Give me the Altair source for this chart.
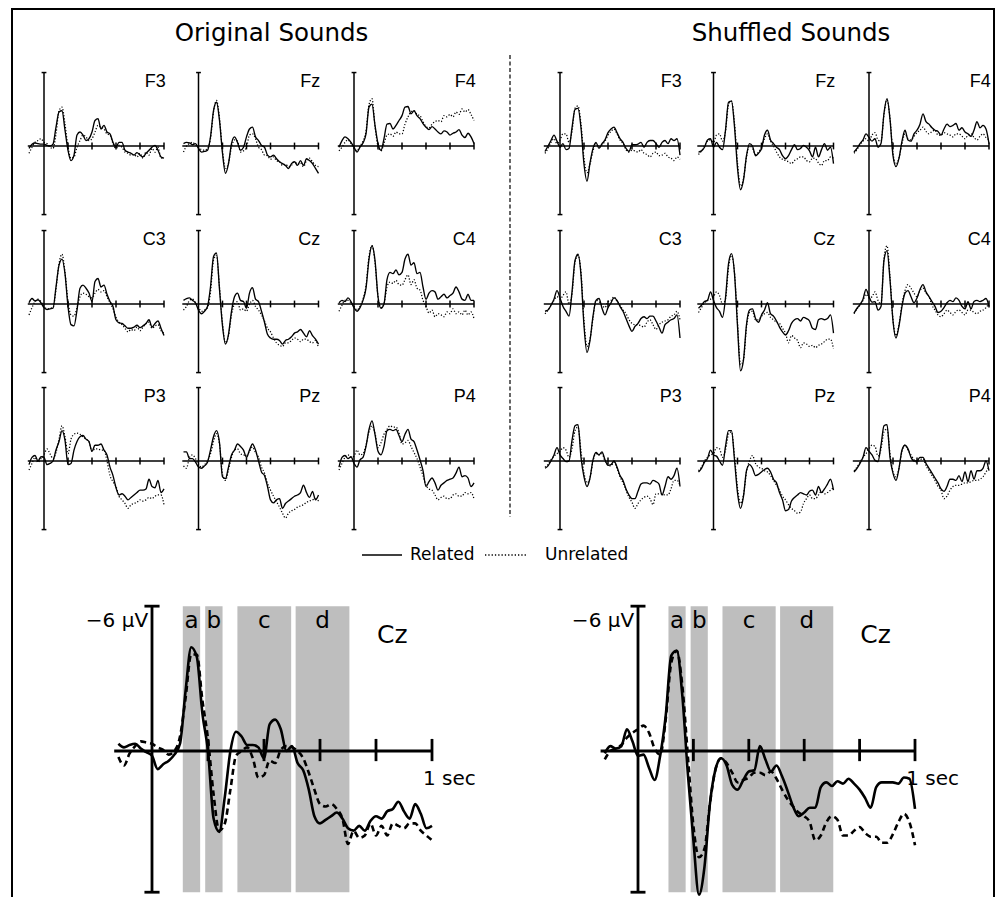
import altair as alt
import pandas as pd

# ------------------------------------------------------------------ data
T_SMALL = [round(-0.125 + 0.025 * i, 3) for i in range(46)]
T_BIG = [round(-0.12 + 0.02 * i, 2) for i in range(57)]

# Original sounds (µV, negative up) : related / unrelated
O_F3_REL = [0.2,-0.15,-0.25,-0.2,-0.15,-0.15,-0.05,0.0,-0.15,-1.55,-2.8,-2.9,-1.3,0.35,1.2,0.75,-0.9,-1.15,-0.9,-0.45,-0.6,-1.15,-2.1,-2.25,-1.4,-1.7,-1.15,-1.0,-0.3,0.1,-0.3,-0.3,0.35,0.5,0.6,0.75,0.55,0.75,0.9,0.6,0.35,0.1,-0.05,0.35,0.9,1.0]
O_F3_UNR = [0.6,0.1,-0.3,-0.45,-0.6,-0.3,-0.2,0.1,0.2,-1.0,-2.9,-3.2,-1.8,0.1,1.0,0.9,0.1,-0.45,-0.9,-0.75,-0.45,-0.6,-1.15,-1.7,-1.55,-1.4,-1.0,-0.9,-0.2,0.2,-0.05,0.1,0.5,0.6,0.75,0.7,0.9,0.6,1.0,0.5,0.75,0.2,0.5,0.1,1.0,1.0]
O_FZ_REL = [-0.2,-0.3,-0.25,-0.1,-0.2,0.2,0.5,0.45,0.35,-0.75,-2.9,-3.6,-2.1,0.6,2.25,1.45,-0.2,-0.75,-0.3,0.35,0.1,-0.75,-1.4,-1.55,-0.75,-0.45,-0.05,0.1,0.75,0.9,0.75,1.05,1.3,1.45,1.6,1.85,1.45,1.3,1.6,1.2,1.6,1.05,1.2,1.45,1.85,2.25]
O_FZ_UNR = [0.5,0.0,-0.2,-0.3,-0.1,0.1,0.3,0.35,0.2,-0.6,-2.8,-3.75,-2.3,0.4,1.85,1.4,0.1,-0.5,-0.4,0.5,0.4,0.1,-0.9,-1.0,-0.6,0.1,0.3,0.75,0.8,1.1,0.9,1.2,1.3,1.6,1.5,1.7,1.6,1.3,1.5,1.4,1.7,1.2,1.0,1.3,1.6,1.7]
O_F4_REL = [0.1,-0.45,-0.75,-0.6,-0.3,0.1,0.5,0.1,-0.25,-1.0,-3.2,-3.45,-1.7,-0.2,0.35,-0.6,-1.8,-1.85,-1.4,-1.7,-2.1,-2.5,-3.2,-3.25,-2.65,-2.9,-2.5,-2.25,-1.85,-1.55,-1.35,-1.6,-1.4,-1.15,-1.0,-1.25,-1.15,-0.9,-1.05,-1.15,-1.35,-0.9,-0.7,-1.05,-0.75,-0.2]
O_F4_UNR = [0.4,0.1,-0.3,-0.5,-0.2,0.2,0.4,0.0,-0.4,-1.2,-3.4,-3.9,-1.6,0.0,0.4,-0.2,-0.9,-1.0,-0.8,-1.15,-1.0,-1.0,-1.8,-2.4,-2.8,-2.9,-2.6,-2.5,-2.0,-1.6,-1.5,-1.8,-2.0,-2.1,-2.0,-2.5,-2.4,-2.6,-2.4,-2.8,-2.6,-3.05,-2.8,-3.0,-2.6,-2.1]
O_C3_REL = [-0.1,-0.45,-0.25,-0.35,-0.1,0.3,0.45,0.4,0.35,-1.4,-3.2,-3.7,-2.5,0.2,1.7,1.8,0.5,-1.3,-1.55,-1.3,-0.9,-0.2,-1.85,-2.1,-1.4,-1.55,-0.8,-0.2,0.2,1.3,1.55,1.6,1.8,2.0,2.0,1.9,1.75,1.95,1.8,1.6,1.3,1.9,1.6,1.4,2.0,2.6]
O_C3_UNR = [0.9,0.3,-0.2,-0.4,-0.2,0.2,0.4,0.35,0.3,-1.2,-3.3,-4.1,-2.6,-0.2,0.9,1.0,0.3,-0.6,-0.9,-0.8,-0.6,-0.5,-0.9,-1.2,-1.0,-1.1,-0.6,-0.1,0.4,1.1,1.5,1.7,2.0,2.3,2.1,2.2,1.9,2.2,1.9,1.6,1.5,2.0,1.8,1.7,2.2,2.4]
O_CZ_REL = [-0.3,-0.45,-0.5,-0.3,-0.1,0.5,0.8,0.6,0.2,-1.4,-3.9,-4.2,-1.2,1.8,3.3,2.5,0.6,-0.6,-0.9,-0.3,-0.2,0.35,-0.9,-1.35,-0.4,-0.2,0.6,1.5,2.5,2.8,2.9,2.9,3.0,3.3,3.0,2.9,2.7,2.4,2.3,2.1,2.4,2.7,2.2,2.6,2.9,3.3]
O_CZ_UNR = [0.5,0.2,-0.3,-0.4,-0.1,0.3,0.6,0.5,0.3,-1.0,-3.6,-4.0,-1.4,1.6,3.2,2.6,0.9,0.0,-0.2,0.5,0.4,0.6,0.0,-0.3,0.2,0.5,0.9,1.4,2.0,2.3,2.8,3.2,3.4,3.5,3.2,3.2,3.0,2.8,2.9,3.1,2.9,2.9,3.1,3.2,3.0,3.6]
O_C4_REL = [-0.1,-0.3,-0.2,-0.5,-0.2,0.3,0.6,0.3,-0.3,-1.3,-3.7,-4.8,-3.6,-0.6,0.35,0.0,-2.0,-2.6,-2.5,-2.8,-2.4,-2.6,-3.7,-4.1,-3.2,-3.4,-2.5,-2.6,-1.4,-0.4,-0.9,-1.1,-1.0,-0.4,-0.6,-0.8,-0.5,-0.7,-0.9,-1.4,-1.0,-0.4,-0.3,-0.8,-0.3,-0.3]
O_C4_UNR = [0.6,0.1,-0.3,-0.3,-0.1,0.2,0.5,0.2,-0.4,-1.5,-3.9,-4.8,-3.4,-0.6,0.3,0.0,-1.4,-1.8,-1.7,-1.95,-1.6,-1.55,-2.0,-2.4,-1.6,-2.0,-1.3,-1.15,-0.3,0.2,0.75,0.5,1.05,0.8,0.9,1.05,0.65,0.8,0.4,0.8,0.65,0.9,0.5,0.9,0.65,1.2]
O_P3_REL = [0.3,-0.3,-0.45,0.0,-0.35,-0.3,0.3,0.2,0.0,-0.9,-1.6,-2.5,-1.7,0.3,0.2,-0.9,-1.6,-2.0,-2.1,-1.8,-1.6,-0.8,-1.3,-1.3,-1.4,-0.9,-0.5,0.5,1.2,2.2,2.8,2.7,2.9,3.2,3.0,2.8,2.6,2.4,2.4,2.3,1.5,2.1,2.2,1.6,2.6,2.3]
O_P3_UNR = [0.75,0.2,-0.3,0.1,-0.2,-0.5,-1.0,-0.6,-0.2,-0.7,-1.8,-2.9,-2.0,-0.6,-1.8,-2.2,-2.3,-2.2,-2.0,-1.8,-1.6,-0.8,-1.0,-1.0,-0.9,-0.9,0.0,1.2,1.7,2.1,2.9,3.2,3.5,3.9,3.6,3.5,3.4,3.2,3.3,3.2,3.0,3.1,2.9,2.8,2.8,3.6]
O_PZ_REL = [-0.75,-0.75,-0.2,-0.2,0.1,0.5,0.6,0.4,0.1,-0.9,-2.0,-2.5,-1.5,1.3,1.45,0.5,-0.5,-0.9,-1.4,-1.2,-0.9,-0.3,-0.9,-1.4,-0.9,0.0,0.9,1.2,2.1,3.2,3.45,3.2,3.1,3.9,3.5,3.3,3.1,2.9,2.8,2.6,2.0,2.6,3.0,2.5,3.2,2.8]
O_PZ_UNR = [0.4,0.6,-0.3,-0.5,-0.2,0.3,0.5,0.3,0.0,-0.6,-1.6,-2.25,-1.4,1.1,1.6,0.7,-0.3,-0.9,-1.0,-0.6,-0.5,-0.45,-0.8,-1.15,-0.7,-0.3,0.5,1.0,1.85,2.4,2.9,3.35,3.8,4.3,4.7,4.3,4.1,4.0,3.8,3.7,3.6,3.4,3.3,3.2,3.1,3.3]
O_P4_REL = [0.5,-0.3,-0.45,-0.2,-0.35,0.2,0.5,-0.1,-0.3,-1.2,-2.6,-3.3,-2.2,-0.8,-0.5,-1.2,-2.5,-2.6,-2.5,-2.6,-2.1,-1.6,-2.2,-2.6,-1.8,-1.6,-0.9,-0.1,0.8,2.1,1.7,1.4,1.8,2.4,2.0,1.8,1.6,1.5,1.4,1.0,0.5,1.3,1.2,1.4,2.1,1.8]
O_P4_UNR = [0.75,0.2,-0.3,-0.5,-0.3,-0.4,-0.9,-0.5,-0.6,-1.3,-2.4,-2.9,-2.3,-1.1,-1.5,-2.2,-2.6,-2.9,-2.8,-2.8,-2.3,-1.4,-1.5,-1.7,-1.2,-0.7,-0.2,0.5,1.2,2.0,2.3,2.4,2.8,3.2,3.0,2.9,3.1,3.1,2.8,2.7,2.9,2.9,2.6,2.7,2.6,3.1]

# Shuffled sounds : related / unrelated
S_F3_REL = [0.45,0.0,-0.45,-0.9,-0.4,0.1,-0.2,0.3,0.2,-1.5,-3.0,-3.1,-1.5,1.5,2.9,1.4,0.2,-0.3,0.2,-0.2,-0.5,-1.1,-1.4,-1.55,-1.1,-0.6,-0.3,0.2,0.45,-0.1,-0.1,-0.15,-0.3,0.1,-0.3,-0.45,-0.45,-0.2,0.1,-0.3,-0.45,-0.2,-0.6,-0.45,-0.6,0.75]
S_F3_UNR = [0.6,0.2,-0.3,-0.6,-0.2,-0.5,-1.0,-1.0,-0.3,-1.2,-3.1,-3.3,-1.8,1.0,2.2,1.5,0.4,-0.2,0.1,-0.1,-0.4,-0.9,-1.2,-1.4,-1.0,-0.5,-0.2,0.3,0.5,0.35,0.4,0.5,0.3,0.6,0.7,0.9,0.6,0.5,0.8,0.75,0.6,0.9,1.0,1.2,0.9,1.1]
S_FZ_REL = [0.5,0.4,0.1,-0.5,-0.6,0.1,-0.3,0.1,0.3,-1.3,-3.6,-3.7,-1.6,1.8,3.6,2.8,0.8,-0.2,0.0,0.8,0.6,0.2,-0.9,-1.3,-0.5,-0.2,0.1,0.3,0.8,1.05,0.8,0.3,-0.1,0.3,0.2,-0.05,0.1,0.4,0.9,0.1,0.9,0.3,-0.2,0.35,0.1,1.45]
S_FZ_UNR = [0.7,0.4,0.0,-0.4,-0.5,-0.3,-0.9,-1.0,-0.4,-1.2,-3.4,-3.7,-1.9,1.4,3.3,2.7,0.9,0.0,0.2,0.7,0.5,0.1,-0.6,-1.0,-0.4,0.0,0.5,0.9,1.1,1.2,1.3,1.45,1.2,1.05,0.9,0.9,1.2,1.3,1.0,1.05,1.4,1.6,1.2,1.2,0.9,1.0]
S_F4_REL = [0.5,0.2,-0.2,-0.5,-1.0,-0.7,-0.4,-0.6,0.1,-0.2,-2.7,-3.9,-2.2,0.8,1.7,1.0,-0.4,-1.3,-0.5,-0.4,-1.0,-1.3,-1.8,-2.65,-2.0,-1.8,-1.5,-1.3,-1.2,-0.9,-1.4,-1.8,-1.6,-1.7,-1.85,-1.3,-1.5,-1.15,-1.0,-0.8,-1.3,-2.0,-1.5,-1.7,-1.4,-0.2]
S_F4_UNR = [0.6,0.3,-0.1,-0.4,-0.6,-0.4,-0.9,-1.1,-0.5,-0.4,-2.6,-3.8,-2.3,0.6,1.5,1.0,-0.2,-1.0,-0.6,-0.5,-0.8,-1.1,-1.3,-1.55,-1.2,-1.0,-1.2,-1.3,-0.9,-0.9,-1.1,-1.0,-0.9,-0.75,-1.0,-1.0,-0.8,-0.6,-0.9,-1.0,-0.7,-0.5,-0.8,-1.0,-0.7,-0.5]
S_C3_REL = [0.6,0.5,0.1,-0.4,-1.1,-0.5,0.2,0.6,1.0,-1.0,-3.6,-4.1,-2.4,1.8,4.0,3.0,1.0,-0.3,-0.45,0.35,0.9,0.3,-0.1,-0.5,-0.3,0.2,0.6,1.2,1.8,2.25,1.85,1.6,1.2,1.05,1.2,1.0,1.0,1.4,1.9,2.4,1.7,1.5,1.3,1.2,0.9,2.8]
S_C3_UNR = [0.8,0.5,0.1,-0.3,-0.6,-0.4,-0.7,-1.0,0.0,-0.8,-3.4,-4.0,-2.6,1.4,3.5,2.9,1.2,-0.3,-0.2,0.1,0.3,-0.2,-0.3,-0.6,-0.2,0.1,0.5,0.8,1.3,1.6,1.7,1.7,1.8,1.9,1.5,1.3,1.7,2.1,1.7,1.5,1.4,1.3,1.0,0.9,0.6,1.3]
S_CZ_REL = [0.35,0.1,-0.2,-0.3,-1.0,-0.3,0.3,0.6,1.1,-0.5,-3.3,-4.15,-2.5,1.8,5.5,4.6,1.7,0.5,0.4,1.2,1.5,0.9,0.5,-0.1,0.8,1.0,1.4,1.9,2.3,2.55,2.2,1.6,1.3,1.2,1.4,1.1,1.2,1.4,2.0,2.1,1.3,1.2,1.3,1.2,0.9,2.4]
S_CZ_UNR = [0.7,0.3,-0.1,-0.3,-0.4,-0.6,-1.0,-0.7,0.0,-0.4,-3.0,-4.0,-2.6,1.5,5.0,4.6,1.9,0.7,0.6,1.3,1.3,1.0,0.8,0.7,1.1,1.3,1.5,1.6,2.0,2.4,3.2,2.6,2.8,3.0,3.6,3.2,3.3,3.5,3.4,3.6,3.4,3.3,3.1,2.9,2.9,3.7]
S_C4_REL = [0.75,0.35,0.05,-0.4,-1.2,-0.6,-0.15,-0.2,0.5,0.2,-3.6,-4.4,-2.0,1.4,2.8,1.8,0.2,-0.9,-1.1,-0.6,-0.1,-0.5,-1.2,-1.6,-1.0,-0.6,-0.2,0.2,0.7,0.6,0.3,-0.1,-0.3,-0.2,-0.5,-0.3,0.2,0.4,-0.2,0.4,-0.2,-0.3,-0.2,-0.3,-0.45,0.2]
S_C4_UNR = [0.8,0.4,0.1,-0.3,-0.8,-0.5,-0.6,-1.0,-0.3,0.0,-3.8,-4.8,-2.2,1.3,2.6,1.7,0.0,-1.1,-1.6,-1.3,-0.9,-0.6,-1.1,-1.3,-0.9,-0.6,0.1,0.5,0.9,1.05,0.8,0.5,0.7,0.9,0.6,0.5,0.7,0.9,0.5,0.5,0.7,0.8,0.6,0.5,0.3,-0.05]
S_P3_REL = [0.6,0.4,0.0,-0.5,-1.1,-0.5,-0.2,0.05,0.0,-1.7,-2.9,-3.0,-0.3,1.3,2.1,1.4,-0.1,-0.7,-0.5,-0.75,-0.1,0.35,0.3,0.0,0.5,1.2,1.6,2.3,2.8,3.1,3.1,2.5,1.9,1.8,1.8,1.9,1.6,1.7,1.9,2.8,2.1,1.3,1.5,1.2,0.6,2.1]
S_P3_UNR = [0.5,0.3,-0.1,-0.4,-0.6,-0.8,-1.1,-0.9,-0.3,-1.0,-2.5,-2.8,-0.8,1.0,1.8,1.4,0.0,-0.6,-0.5,-0.6,0.0,0.3,0.4,0.1,0.6,1.3,1.8,2.4,3.0,3.4,3.9,3.5,3.2,3.0,2.9,3.1,3.6,2.7,2.7,2.7,2.8,2.8,2.3,1.6,1.6,2.0]
S_PZ_REL = [0.9,0.6,0.1,-0.2,-0.9,-0.5,-0.4,0.0,0.35,-1.2,-2.5,-2.5,-0.1,2.6,3.9,2.9,0.8,0.3,0.6,1.2,1.1,0.9,0.7,0.6,0.9,1.5,1.8,2.6,3.2,4.1,4.0,3.3,3.0,2.8,2.6,2.7,2.8,2.5,2.4,2.8,2.1,2.6,2.3,1.9,1.5,2.4]
S_PZ_UNR = [0.8,0.5,0.0,-0.3,-0.5,-0.6,-1.1,-1.0,-0.3,-0.9,-2.2,-2.4,-0.4,2.2,3.5,2.8,0.9,0.0,-0.45,0.2,0.5,0.6,0.8,0.9,1.2,1.6,2.0,2.4,2.9,3.2,3.6,3.9,4.1,4.3,4.2,3.5,3.1,2.8,3.1,3.1,2.8,2.5,2.7,2.6,2.4,2.2]
S_P4_REL = [0.9,0.6,0.2,-0.3,-1.1,-0.8,-0.5,-0.05,0.05,-1.3,-2.9,-3.0,-0.3,1.0,1.6,0.6,-0.9,-1.3,-1.0,-0.3,0.0,0.0,-0.3,-0.3,0.2,0.6,1.0,1.4,1.8,2.3,2.5,2.1,1.5,1.5,1.6,1.2,1.7,0.9,1.7,0.8,1.5,0.8,0.8,0.6,0.0,0.8]
S_P4_UNR = [0.8,0.5,0.1,-0.3,-0.6,-1.0,-1.3,-1.2,-0.4,-1.0,-2.4,-2.65,-0.6,0.9,1.3,0.6,-0.8,-1.3,-0.9,-0.5,-0.1,0.1,-0.1,-0.2,0.4,0.8,1.2,1.6,2.1,2.4,3.1,2.9,2.4,2.1,2.0,2.0,1.9,1.8,1.8,1.7,1.6,1.6,1.5,1.3,0.9,0.5]

# Enlarged Cz
B_ORIG_REL = [-0.3,-0.15,-0.25,-0.3,-0.1,0.05,0.2,0.75,0.55,0.4,0.15,-0.3,-2.5,-4.3,-3.9,-1.55,0.0,2.8,3.35,1.9,0.0,-0.8,-0.6,-0.25,-0.25,-0.15,0.3,-1.1,-1.3,-0.9,0.0,-0.2,0.5,0.8,1.6,2.7,3.0,2.85,2.7,2.55,2.8,3.2,3.3,3.1,3.3,2.9,2.7,2.8,2.5,2.4,2.1,2.5,2.8,2.2,2.6,3.2,3.1]
B_ORIG_UNR = [0.25,0.6,0.1,-0.2,-0.4,-0.35,-0.3,-0.15,-0.05,0.15,0.0,-0.6,-2.2,-4.0,-4.0,-2.1,-0.5,1.8,3.3,3.0,1.6,0.2,0.0,-0.15,0.3,1.1,1.0,0.4,0.5,-0.05,-0.2,-0.15,0.0,0.3,0.9,1.6,2.2,2.3,2.2,2.4,2.8,3.85,3.3,3.6,3.5,3.0,3.5,3.1,3.5,3.0,3.1,3.2,3.0,3.0,3.3,3.5,3.7]
B_SHUF_REL = [0.1,-0.2,-0.1,-0.2,-0.9,-0.4,0.2,0.15,0.7,1.2,0.2,-1.45,-3.95,-4.15,-2.3,0.95,3.7,5.95,4.8,2.15,0.75,0.3,0.6,1.4,1.6,1.2,0.85,0.8,-0.2,0.35,0.85,0.6,1.05,1.65,2.3,2.7,2.55,2.35,2.35,1.5,1.3,1.45,1.25,1.35,1.15,1.35,1.6,1.95,2.35,1.5,1.3,1.3,1.3,1.35,1.1,1.15,2.4]
B_SHUF_UNR = [0.35,0.0,-0.1,-0.25,-0.55,-0.75,-0.9,-1.05,-0.75,-0.1,0.15,-1.3,-3.65,-4.15,-2.7,0.2,3.1,4.4,4.05,2.15,0.75,0.3,0.5,0.9,1.3,1.2,1.1,0.9,0.9,1.0,0.85,1.15,1.6,2.0,2.3,2.55,2.7,2.95,3.7,3.5,2.95,2.7,2.85,3.5,3.5,3.3,3.15,3.4,3.55,3.55,3.8,3.8,3.45,2.95,2.6,2.95,3.9]

ROWS = [["F3", "Fz", "F4"], ["C3", "Cz", "C4"], ["P3", "Pz", "P4"]]
ORIGINAL = {
    "F3": (O_F3_REL, O_F3_UNR), "Fz": (O_FZ_REL, O_FZ_UNR), "F4": (O_F4_REL, O_F4_UNR),
    "C3": (O_C3_REL, O_C3_UNR), "Cz": (O_CZ_REL, O_CZ_UNR), "C4": (O_C4_REL, O_C4_UNR),
    "P3": (O_P3_REL, O_P3_UNR), "Pz": (O_PZ_REL, O_PZ_UNR), "P4": (O_P4_REL, O_P4_UNR),
}
SHUFFLED = {
    "F3": (S_F3_REL, S_F3_UNR), "Fz": (S_FZ_REL, S_FZ_UNR), "F4": (S_F4_REL, S_F4_UNR),
    "C3": (S_C3_REL, S_C3_UNR), "Cz": (S_CZ_REL, S_CZ_UNR), "C4": (S_C4_REL, S_C4_UNR),
    "P3": (S_P3_REL, S_P3_UNR), "Pz": (S_PZ_REL, S_PZ_UNR), "P4": (S_P4_REL, S_P4_UNR),
}
GROUP_TITLES = ["Original Sounds", "Shuffled Sounds"]
LEGEND_LABELS = ["Related", "Unrelated"]
BAND_LABELS = ["a", "b", "c", "d"]
BAND_START = [0.11, 0.19, 0.305, 0.513]
BAND_END = [0.172, 0.252, 0.497, 0.705]
TICK_TIMES = [0.2, 0.4, 0.6, 0.8, 1.0]
T_RANGE = [-0.135, 1.0]          # drawn time axis (s)
SMALL_AX = [-6.05, 5.65]         # drawn amplitude axis, small panels (µV)
BIG_AX = [-6.0, 5.85]            # drawn amplitude axis, Cz panels (µV)

# ------------------------------------------------------------------ layout (pixels)
W, H = 987, 889
FONT = "DejaVu Sans"
SMALL_PPS, SMALL_PPU = 120, 12.14          # px per second / per µV
BIG_PPU = 24.14
SMALL_COLS = {"orig": [36, 190.5, 346], "shuf": [552, 705.5, 861]}   # x of t = 0
SMALL_ZERO = [138, 296, 453]                                         # y of 0 µV
BIG_COLS = [(144, 280), (630, 277)]                                  # x of t = 0, px per s
BIG_ZERO = 743


def scales(x0, pps, y0, ppu):
    xs = alt.Scale(domain=[0, 1], range=[x0, x0 + pps], nice=False, zero=False)
    ys = alt.Scale(domain=[0, 6], range=[y0, y0 + 6 * ppu], nice=False, zero=False)
    return xs, ys


def enc(xs, ys, xf, yf):
    return dict(x=alt.X(xf, type="quantitative", scale=xs, axis=None),
                y=alt.Y(yf, type="quantitative", scale=ys, axis=None))


def frame(xs, ys, vax, cap, tlo, thi, sw):
    k = dict(color="black", strokeWidth=sw)
    zero = alt.Chart(pd.DataFrame({"a": [T_RANGE[0]], "b": [T_RANGE[1]], "v": [0.0]})).mark_rule(**k).encode(
        x2="b", **enc(xs, ys, "a", "v"))
    vline = alt.Chart(pd.DataFrame({"t": [0.0], "lo": [vax[0]], "hi": [vax[1]]})).mark_rule(**k).encode(
        y2="hi", **enc(xs, ys, "t", "lo"))
    caps = alt.Chart(pd.DataFrame({"a": [-cap, -cap], "b": [cap, cap], "v": vax})).mark_rule(**k).encode(
        x2="b", **enc(xs, ys, "a", "v"))
    ticks = alt.Chart(pd.DataFrame({"t": TICK_TIMES, "lo": [tlo] * len(TICK_TIMES),
                                    "hi": [thi] * len(TICK_TIMES)})).mark_rule(**k).encode(
        y2="hi", **enc(xs, ys, "t", "lo"))
    return [zero, vline, caps, ticks]


def small_panel(name, rel, unr, x0, y0):
    xs, ys = scales(x0, SMALL_PPS, y0, SMALL_PPU)
    df = pd.DataFrame({"t": T_SMALL, "rel": rel, "unr": unr})
    base = alt.Chart(df)
    unr_line = base.mark_line(color="black", strokeWidth=1.25, strokeDash=[1.2, 1.8],
                              interpolate="monotone").encode(**enc(xs, ys, "t", "unr"))
    rel_line = base.mark_line(color="black", strokeWidth=1.35,
                              interpolate="monotone").encode(**enc(xs, ys, "t", "rel"))
    label = alt.Chart(pd.DataFrame({"t": [1.014], "v": [-5.3], "name": [name]})).mark_text(
        align="right", baseline="middle", font="Liberation Sans", fontSize=18, color="black"
    ).encode(text="name:N", **enc(xs, ys, "t", "v"))
    return alt.layer(*frame(xs, ys, SMALL_AX, 0.02, -0.28, 0.28, 1.5), unr_line, rel_line, label)


def big_panel(rel, unr, x0, pps):
    xs, ys = scales(x0, pps, BIG_ZERO, BIG_PPU)
    bdf = pd.DataFrame({"s": BAND_START, "e": BAND_END, "lab": BAND_LABELS,
                        "mid": [(a + b) / 2 for a, b in zip(BAND_START, BAND_END)],
                        "lo": [BIG_AX[0]] * 4, "hi": [BIG_AX[1]] * 4, "ty": [-5.08] * 4})
    bands = alt.Chart(bdf).mark_rect(color="#bebebe").encode(x2="e", y2="hi", **enc(xs, ys, "s", "lo"))
    band_text = alt.Chart(bdf).mark_text(font=FONT, fontSize=23, baseline="alphabetic",
                                         align="center", color="black").encode(
        text="lab:N", **enc(xs, ys, "mid", "ty"))
    df = pd.DataFrame({"t": T_BIG, "rel": rel, "unr": unr})
    base = alt.Chart(df)
    unr_line = base.mark_line(color="black", strokeWidth=2.6, strokeDash=[6, 4],
                              interpolate="monotone").encode(**enc(xs, ys, "t", "unr"))
    rel_line = base.mark_line(color="black", strokeWidth=2.6,
                              interpolate="monotone").encode(**enc(xs, ys, "t", "rel"))
    tdf = pd.DataFrame({"t": [0.858, -0.014, 0.968], "v": [-4.46, -5.15, 1.41],
                        "s": ["Cz", "\u22126 \u00b5V", "1 sec"]})
    texts = []
    for i, (size, align) in enumerate([(25, "center"), (20, "right"), (20, "left")]):
        texts.append(alt.Chart(tdf.iloc[[i]]).mark_text(
            font=FONT, fontSize=size, align=align, baseline="alphabetic", color="black"
        ).encode(text="s:N", **enc(xs, ys, "t", "v")))
    return alt.layer(bands, *frame(xs, ys, BIG_AX, 0.027, -0.5, 0.42, 2.8),
                     unr_line, rel_line, band_text, *texts)


# ------------------------------------------------------------------ decorations (frame, titles, legend)
tb = alt.Chart(pd.DataFrame({"k": [0]}))
BLACK = dict(color="black")
decor = [
    tb.mark_rule(strokeWidth=2, **BLACK).encode(x=alt.value(4), y=alt.value(1), y2=alt.value(H)),
    tb.mark_rule(strokeWidth=2, **BLACK).encode(x=alt.value(W - 1), y=alt.value(1), y2=alt.value(H)),
    tb.mark_rule(strokeWidth=2, **BLACK).encode(x=alt.value(3), x2=alt.value(W), y=alt.value(1)),
    tb.mark_rule(strokeWidth=1.2, strokeDash=[4, 2.5], **BLACK).encode(
        x=alt.value(502), y=alt.value(47), y2=alt.value(509)),
    tb.mark_text(font=FONT, fontSize=24.5, align="center", baseline="alphabetic", **BLACK).encode(
        x=alt.value(263.5), y=alt.value(32.7), text=alt.value(GROUP_TITLES[0])),
    tb.mark_text(font=FONT, fontSize=24.5, align="center", baseline="alphabetic", **BLACK).encode(
        x=alt.value(783), y=alt.value(32.7), text=alt.value(GROUP_TITLES[1])),
    tb.mark_rule(strokeWidth=1.3, **BLACK).encode(x=alt.value(354), x2=alt.value(394), y=alt.value(547)),
    tb.mark_text(font=FONT, fontSize=17, align="left", baseline="middle", **BLACK).encode(
        x=alt.value(402), y=alt.value(547), text=alt.value(LEGEND_LABELS[0])),
    tb.mark_rule(strokeWidth=1.3, strokeDash=[1.3, 2], **BLACK).encode(
        x=alt.value(477), x2=alt.value(519), y=alt.value(547)),
    tb.mark_text(font=FONT, fontSize=17, align="left", baseline="middle", **BLACK).encode(
        x=alt.value(537), y=alt.value(547), text=alt.value(LEGEND_LABELS[1])),
]

panels = []
for key, data in (("orig", ORIGINAL), ("shuf", SHUFFLED)):
    for r, row in enumerate(ROWS):
        for c, ch in enumerate(row):
            panels.append(small_panel(ch, *data[ch], SMALL_COLS[key][c], SMALL_ZERO[r]))
panels.append(big_panel(B_ORIG_REL, B_ORIG_UNR, *BIG_COLS[0]))
panels.append(big_panel(B_SHUF_REL, B_SHUF_UNR, *BIG_COLS[1]))

chart = alt.layer(*panels, *decor).resolve_scale(x="independent", y="independent").properties(
    width=W, height=H, padding=0, autosize=alt.AutoSizeParams(type="none")
).configure_view(stroke=None)

chart.save("out.html", embed_options={"renderer": "svg", "actions": False})
